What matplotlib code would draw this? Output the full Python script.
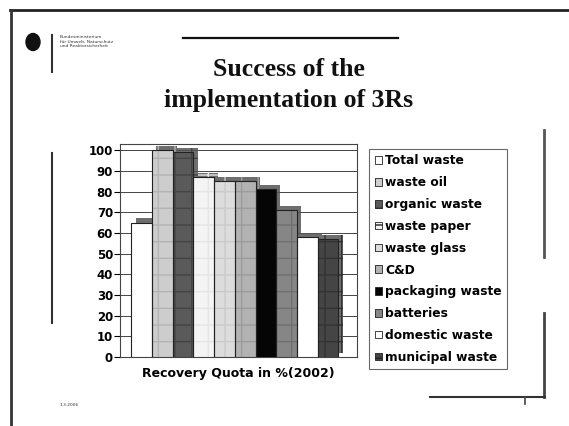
import matplotlib.pyplot as plt
import matplotlib.patheffects as pe
from matplotlib.lines import Line2D
from matplotlib.patches import Ellipse

categories = ['Total waste', 'waste oil', 'organic waste', 'waste paper', 'waste glass',
              'C&D', 'packaging waste', 'batteries', 'domestic waste', 'municipal waste']
values = [65, 100, 99, 87, 85, 85, 81, 71, 58, 57]
yticks = [0, 10, 20, 30, 40, 50, 60, 70, 80, 90, 100]

face = ['#ffffff', '#cdcdcd', '#5a5a5a', '#f4f4f4', '#dcdcdc',
        '#b2b2b2', '#050505', '#868686', '#ffffff', '#454545']
hatch_col = ['#ffffff', '#b4b4b4', '#444444', '#e4e4e4', '#cacaca',
             '#9c9c9c', '#050505', '#707070', '#ffffff', '#333333']
hatches = ['', '+', '+', '+', '+', '+', '', '+', '', '+']

fig = plt.figure(figsize=(5.69, 4.26), dpi=100)
W, H = 569.0, 426.0

def fx(px):
    return px / W

def fy(py):
    return 1 - py / H

# slide decoration
fig.add_artist(Line2D([fx(10), 1.0], [fy(10), fy(10)], color='#222222', lw=2))
fig.add_artist(Line2D([fx(11), fx(11)], [0, fy(10)], color='#333333', lw=2))
fig.add_artist(Line2D([fx(183), fx(398)], [fy(38), fy(38)], color='#111111', lw=1.6))
fig.add_artist(Line2D([fx(52), fx(52)], [fy(35), fy(72)], color='#333333', lw=1.5))
fig.add_artist(Line2D([fx(52), fx(52)], [fy(153), fy(323)], color='#333333', lw=1.5))
fig.add_artist(Line2D([fx(544), fx(544)], [fy(130), fy(257)], color='#555555', lw=2))
fig.add_artist(Line2D([fx(544), fx(544)], [fy(313), fy(397)], color='#444444', lw=2))
fig.add_artist(Line2D([fx(430), fx(545)], [fy(397), fy(397)], color='#333333', lw=1.5))
fig.add_artist(Line2D([fx(525), fx(525)], [fy(397), fy(404)], color='#444444', lw=1.2))
fig.add_artist(Ellipse((fx(33), fy(42)), fx(14), 17 / H, color='#111111'))
fig.text(fx(60), fy(35), 'Bundesministerium\nfür Umwelt, Naturschutz\nund Reaktorsicherheit',
         fontsize=3.2, va='top', ha='left', color='#333333', linespacing=1.2)
fig.text(fx(60), fy(405), '1.3.2006', fontsize=3.2, va='center', ha='left', color='#333333')

fig.text(fx(289), fy(70), 'Success of the', fontsize=18.5, fontweight='bold',
         family='Liberation Serif', ha='center', va='center', color='#111111')
fig.text(fx(289), fy(101), 'implementation of 3Rs', fontsize=18.5, fontweight='bold',
         family='Liberation Serif', ha='center', va='center', color='#111111')

ax = fig.add_axes([fx(120), fy(357), fx(357) - fx(120), (357 - 144) / H])
x = list(range(len(values)))
shadow = [pe.SimplePatchShadow(offset=(3, 3), shadow_rgbFace='#555555', alpha=0.85), pe.Normal()]
for i in x:
    ax.bar(i, values[i], width=1.0, color=face[i], edgecolor=hatch_col[i], hatch=hatches[i],
           linewidth=0, zorder=3, path_effects=shadow)
    ax.bar(i, values[i], width=1.0, fill=False, edgecolor='#222222', linewidth=0.8,
           zorder=4, label=categories[i])

ax.set_xlim(-1.05, 10.4)
ax.set_ylim(0, 103)
ax.set_yticks(yticks)
ax.set_yticklabels([str(v) for v in yticks], fontsize=8.5, fontweight='bold')
ax.yaxis.grid(True, color='#444444', lw=0.7)
ax.set_axisbelow(True)
ax.set_xticks([])
ax.tick_params(axis='y', length=4, width=0.8, pad=1)
for s in ax.spines.values():
    s.set_color('#444444')
    s.set_linewidth(0.8)
ax.set_xlabel('Recovery Quota in %(2002)', fontsize=9, fontweight='bold', labelpad=7)

handles = []
for i in x:
    handles.append(plt.Rectangle((0, 0), 1, 1, facecolor=face[i], edgecolor='#222222',
                                 hatch=hatches[i], linewidth=0.6, label=categories[i]))
leg = fig.legend(handles=handles, loc='upper left',
                 bbox_to_anchor=(fx(369), fy(149)), fontsize=8.8, frameon=True,
                 fancybox=False, edgecolor='#444444', handlelength=0.6, handleheight=0.6,
                 handletextpad=0.25, labelspacing=0.72, borderpad=0.45, borderaxespad=0)
for t in leg.get_texts():
    t.set_fontweight('bold')
leg.get_frame().set_linewidth(0.8)

fig.savefig('out.png', dpi=100, facecolor='white')
